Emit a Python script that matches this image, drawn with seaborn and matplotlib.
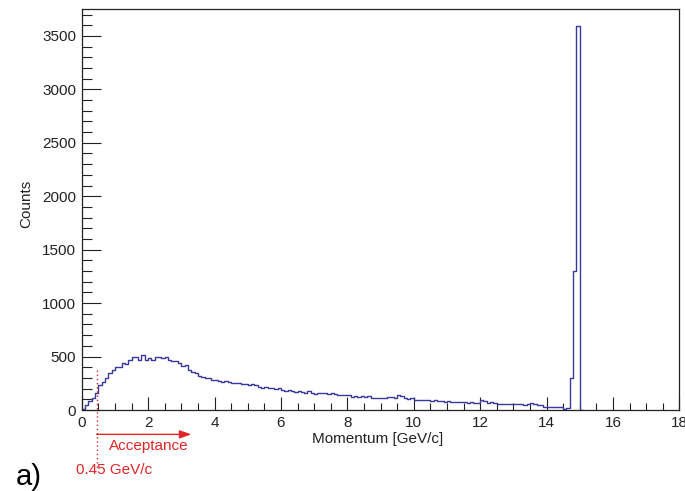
import numpy as np
import pandas as pd
import matplotlib
matplotlib.use("Agg")
import matplotlib.pyplot as plt
from matplotlib.ticker import MultipleLocator
import seaborn as sns

# ---- data (counts per 0.1 GeV/c bin, starting at 0.0) ----
bin_width = 0.1
counts = [
    10, 50, 80, 110, 160, 230, 265, 300, 345, 375,          # 0.0 - 0.9
    405, 400, 440, 435, 470, 500, 495, 470, 510, 470,       # 1.0 - 1.9
    485, 470, 500, 495, 485, 500, 470, 455, 455, 440,       # 2.0 - 2.9
    410, 420, 375, 355, 345, 320, 305, 300, 300, 285,       # 3.0 - 3.9
    280, 275, 265, 270, 260, 255, 250, 255, 245, 240,       # 4.0 - 4.9
    235, 240, 230, 215, 210, 215, 205, 205, 200, 210,       # 5.0 - 5.9
    185, 180, 185, 178, 172, 175, 168, 160, 175, 155,       # 6.0 - 6.9
    152, 160, 155, 162, 150, 155, 148, 145, 140, 142,       # 7.0 - 7.9
    138, 125, 130, 122, 128, 120, 130, 112, 110, 115,       # 8.0 - 8.9
    108, 112, 125, 120, 110, 140, 130, 112, 105, 110,       # 9.0 - 9.9
    92, 95, 90, 94, 92, 88, 90, 80, 82, 78,                 # 10.0 - 10.9
    80, 76, 78, 74, 72, 75, 70, 72, 68, 70,                 # 11.0 - 11.9
    92, 88, 70, 72, 66, 58, 56, 60, 55, 54,                 # 12.0 - 12.9
    57, 52, 55, 50, 54, 62, 58, 47, 45, 32,                 # 13.0 - 13.9
    30, 28, 30, 26, 25, 14, 15, 300, 1300, 3590,            # 14.0 - 14.9
    0,                                                      # 15.0
]
x_ticks = [0, 2, 4, 6, 8, 10, 12, 14, 16, 18]
y_ticks = [0, 500, 1000, 1500, 2000, 2500, 3000, 3500]
cut_value = 0.45
cut_label = "0.45 GeV/c"
arrow_end = 3.3
acc_label = "Acceptance"
x_title = "Momentum [GeV/c]"
y_title = "Counts"
panel_label = "a)"

n = len(counts)
edges = [round(i * bin_width, 2) for i in range(n + 1)]
centers = [(edges[i] + edges[i + 1]) / 2 for i in range(n)]
df = pd.DataFrame({"momentum": centers, "counts": counts})

# ---- style ----
sns.set_style("ticks")
plt.rcParams["font.family"] = ["Liberation Sans", "DejaVu Sans"]
fs = 11

fig = plt.figure(figsize=(6.85, 4.91), dpi=100)
ax = fig.add_axes([81.7 / 685, 1 - 410 / 491, 597.6 / 685, 401 / 491])

hist_color = "#38389e"
sns.histplot(data=df, x="momentum", weights="counts", bins=edges,
             element="step", fill=False, color=hist_color, linewidth=1.0, ax=ax)

ax.set_xlim(0, 18)
ax.set_ylim(0, 3752)
ax.set_xticks(x_ticks)
ax.set_yticks(y_ticks)
ax.xaxis.set_minor_locator(MultipleLocator(0.5))
ax.yaxis.set_minor_locator(MultipleLocator(100))

for s in ["top", "right", "left", "bottom"]:
    ax.spines[s].set_visible(True)
    ax.spines[s].set_color("#222222")
    ax.spines[s].set_linewidth(0.9)

ax.tick_params(axis="x", which="major", direction="in", length=9.5, width=0.8,
               labelsize=fs, pad=4, colors="#222222")
ax.tick_params(axis="x", which="minor", direction="in", length=5, width=0.8, colors="#222222")
ax.tick_params(axis="y", which="major", direction="in", length=14, width=0.8,
               labelsize=fs, pad=4, colors="#222222")
ax.tick_params(axis="y", which="minor", direction="in", length=7, width=0.8, colors="#222222")
ax.tick_params(top=False, right=False, which="both")

ax.set_xlabel(x_title, fontsize=fs, color="#222222")
ax.set_ylabel(y_title, fontsize=fs, color="#222222")
ax.xaxis.set_label_coords(0.496, -0.055)
ax.yaxis.set_label_coords(-0.0815, 0.514)

# ---- acceptance annotation ----
red = "#e02626"
ax.plot([cut_value, cut_value], [375, -545], linestyle=(0, (1, 2)),
        color=red, linewidth=1.0, clip_on=False)
ax.annotate("", xy=(arrow_end, -228), xytext=(cut_value, -228),
            xycoords="data", annotation_clip=False,
            arrowprops=dict(arrowstyle="-|>,head_length=0.7,head_width=0.25",
                            color=red, lw=1.0, shrinkA=0, shrinkB=0))
ax.text(0.82, -335, acc_label, color=red, fontsize=fs, ha="left", va="center",
        clip_on=False)
ax.text(-0.17, -565, cut_label, color=red, fontsize=fs, ha="left", va="center",
        clip_on=False)

fig.text(16 / 685, 1 - 477 / 491, panel_label, fontsize=21, color="black",
         ha="left", va="center")

fig.savefig("out.png", dpi=100)
